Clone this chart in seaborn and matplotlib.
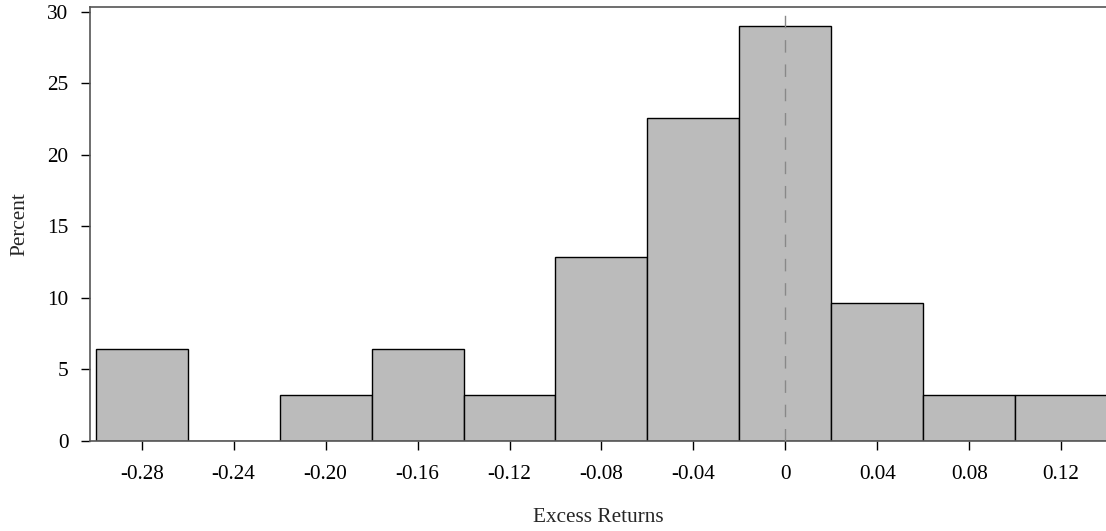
import matplotlib
matplotlib.use("Agg")
import matplotlib.pyplot as plt
import seaborn as sns
import pandas as pd

# Data: bin centers (excess returns) and percent of observations
bin_centers = [-0.28, -0.24, -0.20, -0.16, -0.12, -0.08, -0.04, 0.0, 0.04, 0.08, 0.12]
percent = [6.45, 0.0, 3.23, 6.45, 3.23, 12.90, 22.58, 29.03, 9.68, 3.23, 3.23]
bin_width = 0.04
x_ticks = [-0.28, -0.24, -0.20, -0.16, -0.12, -0.08, -0.04, 0.0, 0.04, 0.08, 0.12]
x_tick_labels = ["-0.28", "-0.24", "-0.20", "-0.16", "-0.12", "-0.08", "-0.04", "0", "0.04", "0.08", "0.12"]
y_ticks = [0, 5, 10, 15, 20, 25, 30]

df = pd.DataFrame({"ret": bin_centers, "pct": percent})

sns.set_theme(style="white")
plt.rcParams['font.family'] = ['Liberation Serif', 'DejaVu Serif']

fig = plt.figure(figsize=(11.06, 5.31), dpi=100)
ax = fig.add_axes([90/1106, 1 - 441/531, 1 - 90/1106, (441 - 6.5)/531])

lo = bin_centers[0] - bin_width / 2
hi = bin_centers[-1] + bin_width / 2
sns.histplot(data=df, x="ret", weights="pct", binwidth=bin_width, binrange=(lo, hi), ax=ax,
             color="#bbbbbb", edgecolor="black", linewidth=1.0, alpha=1.0)

ax.axvline(0, color="#888888", linewidth=1.0, dashes=(9, 8.5), zorder=5)

ax.set_xlim(-0.3025, 0.1395)
ax.set_ylim(0, 30.38)
ax.set_xticks(x_ticks)
ax.set_xticklabels(x_tick_labels)
ax.set_yticks(y_ticks)

ax.tick_params(axis='both', which='both', direction='out', colors='black',
               labelsize=15.3, length=6.5, width=1.0, bottom=True, left=True)
ax.tick_params(axis='x', pad=11)
ax.tick_params(axis='y', pad=9)

for side in ['left', 'top', 'bottom']:
    ax.spines[side].set_visible(True)
    ax.spines[side].set_color('#555555')
    ax.spines[side].set_linewidth(1.2)
ax.spines['right'].set_visible(False)

ax.set_xlabel("Excess Returns", fontsize=15.3, labelpad=17)
ax.set_ylabel("Percent", fontsize=15.3, labelpad=13)

fig.savefig("out.png", dpi=100)
